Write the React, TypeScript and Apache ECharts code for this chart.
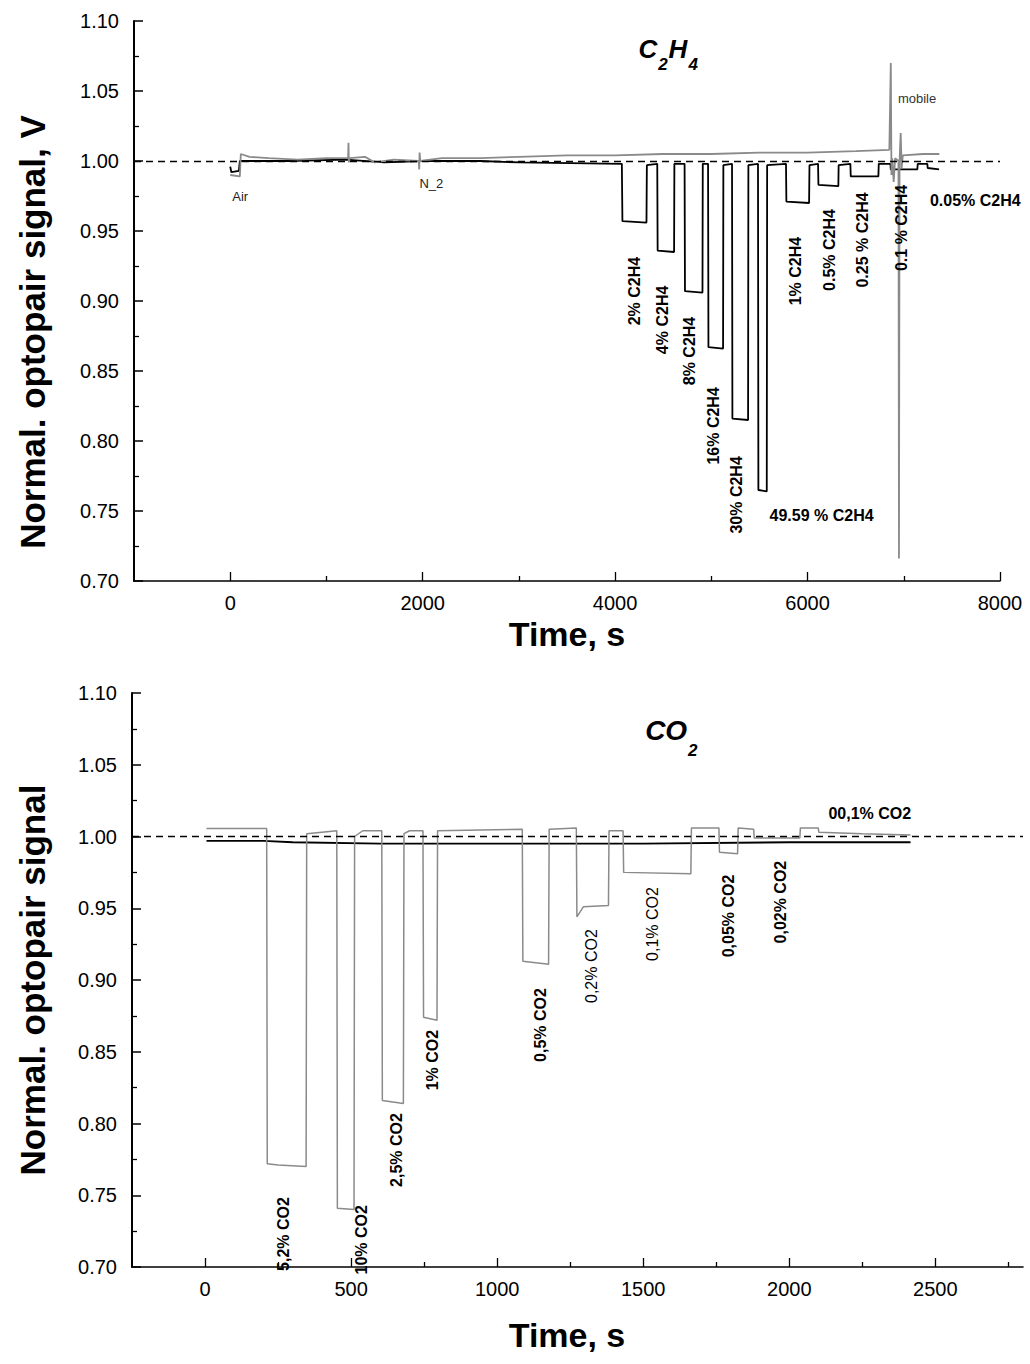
import React, { useEffect, useRef } from "react";
import * as echarts from "echarts";

// ---------- DATA ----------
// C2H4 experiment, black trace [time s, normalized signal]
const c2h4Black: [number, number][] = [
  [0, 0.996], [12, 0.992], [90, 0.993], [100, 1.0], [600, 1.0], [1200, 1.001], [1600, 0.999],
  [2000, 1.0], [2600, 1.0], [3000, 0.999], [4070, 0.998],
  [4076, 0.957], [4326, 0.956], [4330, 0.997], [4438, 0.998],
  [4442, 0.936], [4613, 0.935], [4616, 0.998], [4722, 0.998],
  [4726, 0.907], [4908, 0.906], [4911, 0.998], [4966, 0.998],
  [4970, 0.867], [5122, 0.866], [5125, 0.997], [5215, 0.998],
  [5219, 0.816], [5382, 0.815], [5385, 0.997], [5485, 0.998],
  [5489, 0.765], [5576, 0.764], [5580, 0.997], [5776, 0.998],
  [5780, 0.971], [6016, 0.970], [6020, 0.997], [6109, 0.998],
  [6113, 0.983], [6320, 0.982], [6323, 0.997], [6445, 0.998],
  [6449, 0.989], [6736, 0.989], [6740, 0.998], [6861, 0.998],
  [6865, 0.994], [7141, 0.994], [7145, 0.998], [7245, 0.998],
  [7248, 0.995], [7367, 0.994],
];
// C2H4 experiment, grey trace
const c2h4Gray: [number, number][] = [
  [0, 0.990], [100, 0.989], [110, 1.005], [200, 1.003], [400, 1.002], [700, 1.001], [1000, 1.002],
  [1225, 1.002], [1229, 1.013], [1233, 0.999], [1240, 1.002], [1400, 1.003], [1500, 0.999],
  [1700, 1.001], [1960, 1.0], [1964, 0.994], [1968, 1.006], [1975, 1.0], [2200, 1.002],
  [2600, 1.002], [3000, 1.003], [3500, 1.004], [4000, 1.004], [4500, 1.005], [5000, 1.005],
  [5500, 1.006], [6000, 1.006], [6500, 1.007], [6850, 1.008], [6865, 1.07], [6872, 0.99],
  [6880, 1.002], [6895, 0.985], [6910, 1.002], [6945, 1.0], [6950, 0.716], [6956, 1.0],
  [6968, 1.02], [6978, 0.995], [6990, 1.004], [7200, 1.005], [7370, 1.005],
];
// CO2 experiment, black trace
const co2Black: [number, number][] = [
  [5, 0.997], [200, 0.997], [300, 0.996], [600, 0.995], [1000, 0.995], [1500, 0.995],
  [2000, 0.996], [2415, 0.996],
];
// CO2 experiment, grey trace
const co2Gray: [number, number][] = [
  [5, 1.0055], [211, 1.0055], [213, 0.772], [250, 0.771], [346, 0.770], [348, 1.002],
  [400, 1.003], [451, 1.004], [453, 0.741], [510, 0.740], [512, 1.0], [540, 1.004],
  [605, 1.004], [607, 0.816], [679, 0.814], [681, 1.002], [700, 1.004], [746, 1.004],
  [748, 0.874], [794, 0.872], [796, 1.004], [1086, 1.005], [1088, 0.913], [1176, 0.911],
  [1178, 1.005], [1271, 1.006], [1273, 0.944], [1295, 0.951], [1381, 0.952], [1383, 1.004],
  [1431, 1.004], [1433, 0.975], [1663, 0.974], [1665, 1.006], [1759, 1.006], [1761, 0.989],
  [1823, 0.988], [1825, 1.006], [1878, 1.005], [1880, 0.999], [2036, 0.999], [2038, 1.006],
  [2099, 1.006], [2101, 1.003], [2250, 1.002], [2415, 1.001],
];

// tick values
const yTicks = [0.7, 0.75, 0.8, 0.85, 0.9, 0.95, 1.0, 1.05, 1.1];
const c2h4MajorX = [0, 2000, 4000, 6000, 8000];
const c2h4MinorX = [1000, 3000, 5000, 7000];
const co2MajorX = [0, 500, 1000, 1500, 2000, 2500];
const co2MinorX = [250, 750, 1250, 1750, 2250, 2750];
const baseline = 1.0;

// annotations (anchored in data coordinates)
type Ann = { text: string; t: number; v: number; bold: boolean; rot: boolean; size: number; left?: boolean; color?: string };
const c2h4Labels: Ann[] = [
  { text: "2% C2H4", t: 4203, v: 0.9071, bold: true, rot: true, size: 16 },
  { text: "4% C2H4", t: 4494, v: 0.8865, bold: true, rot: true, size: 16 },
  { text: "8% C2H4", t: 4775, v: 0.8643, bold: true, rot: true, size: 16 },
  { text: "16% C2H4", t: 5026, v: 0.8108, bold: true, rot: true, size: 16 },
  { text: "30% C2H4", t: 5264, v: 0.7615, bold: true, rot: true, size: 16 },
  { text: "49.59 % C2H4", t: 5605, v: 0.7465, bold: true, rot: false, size: 16, left: true },
  { text: "1% C2H4", t: 5878, v: 0.9214, bold: true, rot: true, size: 16 },
  { text: "0.5% C2H4", t: 6232, v: 0.9364, bold: true, rot: true, size: 16 },
  { text: "0.25 % C2H4", t: 6575, v: 0.9436, bold: true, rot: true, size: 16 },
  { text: "0.1 % C2H4", t: 6980, v: 0.9522, bold: true, rot: true, size: 16 },
  { text: "0.05% C2H4", t: 7272, v: 0.9721, bold: true, rot: false, size: 16, left: true },
  { text: "Air", t: 21, v: 0.9743, bold: false, rot: false, size: 13, left: true, color: "#222" },
  { text: "N_2", t: 1966, v: 0.9836, bold: false, rot: false, size: 13, left: true, color: "#222" },
  { text: "mobile", t: 6939, v: 1.0443, bold: false, rot: false, size: 13, left: true, color: "#333" },
];
const co2Labels: Ann[] = [
  { text: "5,2% CO2", t: 267, v: 0.723, bold: true, rot: true, size: 16 },
  { text: "10% CO2", t: 534, v: 0.719, bold: true, rot: true, size: 16 },
  { text: "2,5% CO2", t: 657, v: 0.7815, bold: true, rot: true, size: 16 },
  { text: "1% CO2", t: 778, v: 0.8442, bold: true, rot: true, size: 16 },
  { text: "0,5% CO2", t: 1147, v: 0.8686, bold: true, rot: true, size: 16 },
  { text: "0,2% CO2", t: 1322, v: 0.9097, bold: false, rot: true, size: 16 },
  { text: "0,1% CO2", t: 1531, v: 0.939, bold: false, rot: true, size: 16 },
  { text: "0,05% CO2", t: 1791, v: 0.9446, bold: true, rot: true, size: 16 },
  { text: "0,02% CO2", t: 1969, v: 0.9543, bold: true, rot: true, size: 16 },
  { text: "00,1% CO2", t: 2134, v: 1.0157, bold: true, rot: false, size: 16, left: true },
];

const FONT = "'Liberation Sans', Arial, Helvetica, sans-serif";
const W = 1030;
const H = 1364;

function xAxes(grid: number, min: number, max: number, major: number[], minor: number[]) {
  return [
    {
      type: "value", gridIndex: grid, min, max, position: "bottom",
      axisLine: { show: true, onZero: false, lineStyle: { color: "#000", width: 1.6 } },
      axisTick: { show: true, inside: true, length: 9, customValues: major, lineStyle: { color: "#000", width: 1.3 } },
      axisLabel: {
        show: true, customValues: major, color: "#000", fontSize: 20, fontFamily: FONT, margin: 12,
        formatter: (v: number) => String(v),
      },
      splitLine: { show: false },
    },
    {
      type: "value", gridIndex: grid, min, max, position: "bottom",
      axisLine: { show: false },
      axisTick: { show: true, inside: true, length: 5, customValues: minor, lineStyle: { color: "#000", width: 1.3 } },
      axisLabel: { show: false },
      splitLine: { show: false },
    },
  ];
}

function yAxis(grid: number) {
  return {
    type: "value", gridIndex: grid, min: yTicks[0], max: yTicks[yTicks.length - 1], interval: 0.05,
    axisLine: { show: true, onZero: false, lineStyle: { color: "#000", width: 2 } },
    axisTick: { show: true, inside: true, length: 9, lineStyle: { color: "#000", width: 1.5 } },
    minorTick: { show: true, splitNumber: 2, length: 5, lineStyle: { color: "#000", width: 1.3 } },
    axisLabel: { color: "#000", fontSize: 20, fontFamily: FONT, margin: 15, formatter: (v: number) => v.toFixed(2) },
    splitLine: { show: false },
    minorSplitLine: { show: false },
  };
}

const dashed = {
  silent: true,
  symbol: ["none", "none"],
  label: { show: false },
  lineStyle: { type: [7, 5], color: "#000", width: 1.3 },
  data: [{ yAxis: baseline }],
};

export default function App() {
  const ref = useRef<HTMLDivElement>(null);
  useEffect(() => {
    document.body.style.margin = "0";
    if (!ref.current) return;
    const chart = echarts.init(ref.current, null, { renderer: "svg", width: W, height: H });
    chart.setOption({
      animation: false,
      backgroundColor: "#fff",
      grid: [
        { left: 134, top: 21, width: 866, height: 560 },
        { left: 132, top: 693, width: 891, height: 574 },
      ],
      xAxis: [
        ...xAxes(0, -1000, 8000, c2h4MajorX, c2h4MinorX),
        ...xAxes(1, -250, 2800, co2MajorX, co2MinorX),
      ],
      yAxis: [yAxis(0), yAxis(1)],
      series: [
        {
          type: "line", xAxisIndex: 0, yAxisIndex: 0, data: c2h4Black, showSymbol: false, symbol: "none",
          lineStyle: { color: "#000", width: 1.8 }, z: 3, markLine: dashed,
        },
        {
          type: "line", xAxisIndex: 0, yAxisIndex: 0, data: c2h4Gray, showSymbol: false, symbol: "none",
          lineStyle: { color: "#8a8a8a", width: 1.8 }, z: 4,
        },
        {
          type: "line", xAxisIndex: 2, yAxisIndex: 1, data: co2Black, showSymbol: false, symbol: "none",
          lineStyle: { color: "#000", width: 1.8 }, z: 3, markLine: dashed,
        },
        {
          type: "line", xAxisIndex: 2, yAxisIndex: 1, data: co2Gray, showSymbol: false, symbol: "none",
          lineStyle: { color: "#8a8a8a", width: 1.5 }, z: 4,
        },
      ],
    });

    const mk = (seriesIndex: number, a: Ann) => {
      const p = chart.convertToPixel({ seriesIndex }, [a.t, a.v]) as number[];
      const align = a.left ? "left" : "center";
      return {
        type: "text",
        x: p[0], y: p[1],
        rotation: a.rot ? Math.PI / 2 : 0,
        z: 10,
        style: {
          text: a.text,
          fill: a.color || "#000",
          fontSize: a.size,
          fontWeight: a.bold ? "bold" : "normal",
          fontFamily: FONT,
          align, verticalAlign: "middle",
          textAlign: align, textVerticalAlign: "middle",
        },
      };
    };
    const title = (seriesIndex: number, t: number, v: number, rich: string, size: number, subPad: number) => {
      const p = chart.convertToPixel({ seriesIndex }, [t, v]) as number[];
      return {
        type: "text", x: p[0], y: p[1], z: 10,
        style: {
          text: rich,
          align: "center", verticalAlign: "top",
          textAlign: "center", textVerticalAlign: "top",
          rich: {
            a: { fontSize: size, fontWeight: "bold", fontStyle: "italic", fontFamily: FONT, lineHeight: 30, verticalAlign: "top", fill: "#000" },
            b: { fontSize: 17, fontWeight: "bold", fontStyle: "italic", fontFamily: FONT, lineHeight: 17, padding: [subPad, 1, 0, 1], verticalAlign: "top", fill: "#000" },
          },
        },
      };
    };
    const axisName = (text: string, x: number, y: number, rot: boolean, size: number) => ({
      type: "text", x, y, rotation: rot ? Math.PI / 2 : 0, z: 10,
      style: {
        text, fill: "#000", fontSize: size, fontWeight: "bold", fontFamily: FONT,
        align: "center", verticalAlign: "middle", textAlign: "center", textVerticalAlign: "middle",
      },
    });

    const graphics: any[] = [
      ...c2h4Labels.map((a) => mk(0, a)),
      ...co2Labels.map((a) => mk(2, a)),
      title(0, 4556, 1.0893, "{a|C}{b|2}{a|H}{b|4}", 26, 20),
      title(2, 1598, 1.0833, "{a|CO}{b|2}", 28, 25),
      axisName("Normal. optopair signal, V", 32, 332, true, 35),
      axisName("Time, s", 567, 634, false, 34),
      axisName("Normal. optopair signal", 32, 980, true, 35),
      axisName("Time, s", 567, 1335, false, 34),
    ];
    chart.setOption({ graphic: { elements: graphics } });
    return () => chart.dispose();
  }, []);
  return <div ref={ref} style={{ width: W, height: H }} />;
}
